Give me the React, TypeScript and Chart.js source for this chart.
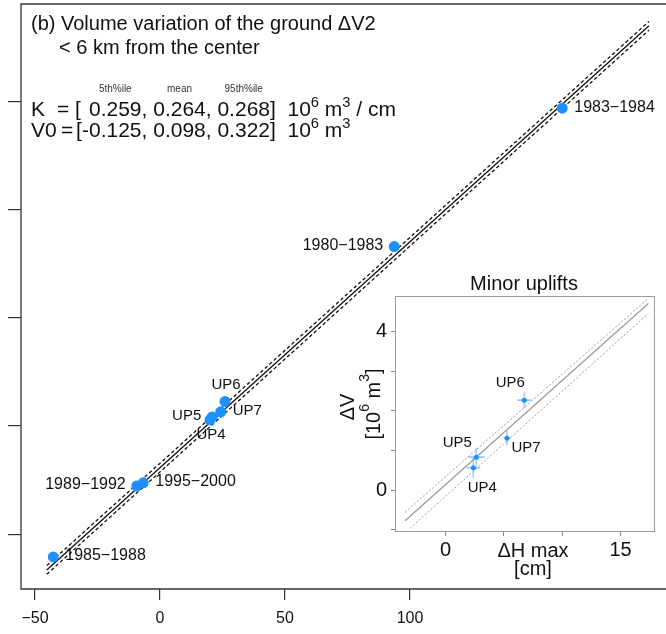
import React, { useEffect, useRef } from "react";
import { Chart, registerables } from "chart.js";
Chart.register(...registerables);

const FONT = "'Liberation Sans', Arial, Helvetica, sans-serif";

// ---------- main panel data ----------
const periodNames = ["1985−1988", "1989−1992", "1995−2000", "UP4", "UP5", "UP7", "UP6", "1980−1983", "1983−1984"];
const periodDH = [-42.7, -9.3, -6.7, 20.0, 20.9, 24.3, 26.0, 93.7, 160.9];
const periodDV = [-12.1, -5.55, -5.25, 0.56, 0.83, 1.31, 2.27, 16.57, 29.36];
const periodLabelSide = ["right", "left", "right", "bottom", "left", "right", "top", "left", "right"];

const fitX = [-45.3, 195.6];
const fitMean = [-13.3, 36.97];
const fitUpper = [-12.9, 37.37];
const fitLower = [-13.7, 36.57];

const mainXTicks = [-50, 0, 50, 100];
const mainYTicks = [-10, 0, 10, 20, 30];

// ---------- inset data ----------
const upNames = ["UP4", "UP5", "UP6", "UP7"];
const upDH = [2.38, 2.64, 6.75, 5.27];
const upDV = [0.56, 0.83, 2.27, 1.31];
const upDHErr = [0.6, 0.72, 0.62, 0.3];
const upDVErr = [0.25, 0.23, 0.2, 0.18];
const upLabelOffset = [[9, 20], [-19, -14], [-14, -17], [19, 10]];

const insetFitX = [-3.47, 17.38];
const insetFitMean = [-0.775, 4.71];
const insetUpperX = [-3.47, 17.38];
const insetFitUpper = [-0.563, 4.84];
const insetLowerX = [-3.04, 17.38];
const insetFitLower = [-0.967, 4.46];

const insetXTicks = [0, 5, 10, 15];
const insetXLabels = ["0", "", "", "15"];
const insetYTicks = [-1, 0, 1, 2, 3, 4];
const insetYLabels = ["", "0", "", "", "", "4"];

// K / V0 table text
const statHeads = ["5th%ile", "mean", "95th%ile"];
const kValues = ["0.259", "0.264", "0.268"];
const v0Values = ["-0.125", "0.098", "0.322"];

type Piece = { t: string; sup?: boolean };

function richWidth(ctx: CanvasRenderingContext2D, pieces: Piece[], size: number) {
  let w = 0;
  for (const p of pieces) {
    ctx.font = `${p.sup ? size * 0.7 : size}px ${FONT}`;
    w += ctx.measureText(p.t).width;
  }
  return w;
}

function drawRich(ctx: CanvasRenderingContext2D, pieces: Piece[], x: number, y: number, size: number) {
  let cx = x;
  for (const p of pieces) {
    const fs = p.sup ? size * 0.7 : size;
    ctx.font = `${fs}px ${FONT}`;
    ctx.fillText(p.t, cx, p.sup ? y - size * 0.42 : y);
    cx += ctx.measureText(p.t).width;
  }
}

const fmtMinus = (v: number) => (v < 0 ? "−" + Math.abs(v) : String(v));

const mainDecor = {
  id: "mainDecor",
  afterDatasetsDraw(chart: any) {
    const ctx: CanvasRenderingContext2D = chart.ctx;
    const { left, top, right, bottom } = chart.chartArea;
    ctx.save();
    ctx.strokeStyle = "#333";
    ctx.lineWidth = 1.3;
    ctx.beginPath();
    ctx.moveTo(right + 2, top);
    ctx.lineTo(left, top);
    ctx.lineTo(left, bottom);
    ctx.lineTo(right + 2, bottom);
    ctx.stroke();

    const xs = chart.scales.x, ys = chart.scales.y;
    ctx.fillStyle = "#111";
    ctx.textBaseline = "middle";
    periodNames.forEach((name, i) => {
      const px = xs.getPixelForValue(periodDH[i]);
      const py = ys.getPixelForValue(periodDV[i]);
      const isUP = name.startsWith("UP");
      ctx.font = `${isUP ? 15 : 16}px ${FONT}`;
      const side = periodLabelSide[i];
      if (side === "right") { ctx.textAlign = "left"; ctx.fillText(name, px + 12, py - 1); }
      else if (side === "left") { ctx.textAlign = "right"; ctx.fillText(name, px - 11, py - 1); }
      else if (side === "top") { ctx.textAlign = "center"; ctx.fillText(name, px + 1, py - 17); }
      else { ctx.textAlign = "center"; ctx.fillText(name, px + 1, py + 15); }
    });

    // header text
    ctx.textAlign = "left";
    ctx.textBaseline = "alphabetic";
    ctx.fillStyle = "#111";
    ctx.font = `20px ${FONT}`;
    ctx.fillText("(b) Volume variation of the ground ΔV2", 31, 30);
    ctx.fillText("< 6 km from the center", 59, 54);

    const S = 21;
    const numX = 89;
    ctx.font = `${S}px ${FONT}`;
    ctx.fillText("K", 31, 116);
    ctx.fillText("=", 57, 116);
    ctx.fillText("[", 75, 116);
    ctx.fillText("V0", 31, 137);
    ctx.fillText("=", 61, 137);
    ctx.fillText("[", 76, 137);
    const w1 = ctx.measureText(kValues[0]).width;
    const off2 = ctx.measureText(`${kValues[0]}, `).width;
    const w2 = ctx.measureText(kValues[1]).width;
    const off3 = ctx.measureText(`${kValues[0]}, ${kValues[1]}, `).width;
    const w3 = ctx.measureText(kValues[2]).width;
    const centres = [numX + w1 / 2, numX + off2 + w2 / 2, numX + off3 + w3 / 2];
    const minusW = ctx.measureText("-").width;

    drawRich(ctx, [{ t: `${kValues.join(", ")}]  10` }, { t: "6", sup: true }, { t: " m" }, { t: "3", sup: true }, { t: " / cm" }], numX, 116, S);
    drawRich(ctx, [{ t: `${v0Values.join(", ")}]  10` }, { t: "6", sup: true }, { t: " m" }, { t: "3", sup: true }], numX - minusW, 137, S);

    ctx.font = `10px ${FONT}`;
    ctx.fillStyle = "#333";
    ctx.textAlign = "center";
    statHeads.forEach((h, i) => ctx.fillText(h, centres[i], 92));
    ctx.restore();
  },
};

const OX = 320, OY = 260;

const insetDecor = {
  id: "insetDecor",
  beforeDatasetsDraw(chart: any) {
    const ctx: CanvasRenderingContext2D = chart.ctx;
    const xs = chart.scales.x, ys = chart.scales.y;
    ctx.save();
    ctx.strokeStyle = "rgba(30,144,255,0.45)";
    ctx.lineWidth = 1.6;
    upDH.forEach((x, i) => {
      const px = xs.getPixelForValue(x), py = ys.getPixelForValue(upDV[i]);
      const x0 = xs.getPixelForValue(x - upDHErr[i]), x1 = xs.getPixelForValue(x + upDHErr[i]);
      const y0 = ys.getPixelForValue(upDV[i] - upDVErr[i]), y1 = ys.getPixelForValue(upDV[i] + upDVErr[i]);
      ctx.beginPath();
      ctx.moveTo(x0, py); ctx.lineTo(x1, py);
      ctx.moveTo(px, y0); ctx.lineTo(px, y1);
      ctx.stroke();
    });
    ctx.restore();
  },
  afterDraw(chart: any) {
    const ctx: CanvasRenderingContext2D = chart.ctx;
    const { left, top, right, bottom } = chart.chartArea;
    const xs = chart.scales.x, ys = chart.scales.y;
    ctx.save();
    ctx.strokeStyle = "#9a9a9a";
    ctx.lineWidth = 1;
    ctx.strokeRect(left + 0.5, top + 0.5, right - left - 1, bottom - top - 1);

    ctx.fillStyle = "#111";
    ctx.textBaseline = "middle";
    ctx.font = `15px ${FONT}`;
    ctx.textAlign = "center";
    upNames.forEach((n, i) => {
      const px = xs.getPixelForValue(upDH[i]), py = ys.getPixelForValue(upDV[i]);
      ctx.fillText(n, px + upLabelOffset[i][0], py + upLabelOffset[i][1]);
    });

    ctx.font = `20px ${FONT}`;
    ctx.fillText("Minor uplifts", 524 - OX, 284 - OY);
    ctx.fillText("ΔH max", 533 - OX, 551 - OY);
    ctx.fillText("[cm]", 533 - OX, 569 - OY);

    ctx.save();
    ctx.translate(348 - OX, 407 - OY);
    ctx.rotate(-Math.PI / 2);
    ctx.fillText("ΔV", 0, 0);
    ctx.restore();

    ctx.save();
    ctx.translate(374 - OX, 404 - OY);
    ctx.rotate(-Math.PI / 2);
    const pcs: Piece[] = [{ t: "[10" }, { t: "6", sup: true }, { t: " m" }, { t: "3", sup: true }, { t: "]" }];
    const w = richWidth(ctx, pcs, 20);
    ctx.textAlign = "left";
    drawRich(ctx, pcs, -w / 2, 0, 20);
    ctx.restore();
    ctx.restore();
  },
};

export default function App() {
  const mainRef = useRef<HTMLCanvasElement>(null);
  const insetRef = useRef<HTMLCanvasElement>(null);

  useEffect(() => {
    const pts = (xs: number[], ys: number[]) => xs.map((x, i) => ({ x, y: ys[i] }));
    const main = new Chart(mainRef.current!, {
      type: "scatter",
      data: {
        datasets: [
          { data: pts(periodDH, periodDV), backgroundColor: "#1E90FF", borderWidth: 0, pointRadius: 5.5, showLine: false },
          { data: pts(fitX, fitMean), borderColor: "#111", borderWidth: 1.3, pointRadius: 0, showLine: true },
          { data: pts(fitX, fitUpper), borderColor: "#111", borderWidth: 1.3, borderDash: [3.5, 2.5], pointRadius: 0, showLine: true },
          { data: pts(fitX, fitLower), borderColor: "#111", borderWidth: 1.3, borderDash: [3.5, 2.5], pointRadius: 0, showLine: true },
        ],
      },
      options: {
        animation: false,
        responsive: false,
        devicePixelRatio: 1,
        layout: { autoPadding: false, padding: { left: 0, right: 0, top: 4, bottom: 0 } },
        plugins: { legend: { display: false }, tooltip: { enabled: false } },
        scales: {
          x: {
            type: "linear", min: -55.6, max: 202.4,
            afterBuildTicks: (s: any) => { s.ticks = mainXTicks.map((v) => ({ value: v })); },
            afterFit: (s: any) => { s.height = 45; },
            border: { display: false },
            grid: { drawOnChartArea: false, drawTicks: true, tickLength: 11, color: "#333", tickColor: "#333", lineWidth: 1.2 },
            ticks: { font: { size: 16, family: FONT }, color: "#111", padding: 9, maxRotation: 0, callback: (v: any) => fmtMinus(Number(v)) },
          },
          y: {
            type: "linear", min: -15.06, max: 38.98,
            afterBuildTicks: (s: any) => { s.ticks = mainYTicks.map((v) => ({ value: v })); },
            afterFit: (s: any) => { s.width = 21; },
            border: { display: false },
            grid: { drawOnChartArea: false, drawTicks: true, tickLength: 13, color: "#333", tickColor: "#333", lineWidth: 1.2 },
            ticks: { display: false },
          },
        },
      },
      plugins: [mainDecor],
    } as any);

    const inset = new Chart(insetRef.current!, {
      type: "scatter",
      data: {
        datasets: [
          { data: pts(upDH, upDV), backgroundColor: "#1E90FF", borderWidth: 0, pointRadius: 2.5, showLine: false },
          { data: pts(insetFitX, insetFitMean), borderColor: "#999", borderWidth: 1.2, pointRadius: 0, showLine: true },
          { data: pts(insetUpperX, insetFitUpper), borderColor: "#999", borderWidth: 1, borderDash: [2, 2], pointRadius: 0, showLine: true },
          { data: pts(insetLowerX, insetFitLower), borderColor: "#999", borderWidth: 1, borderDash: [2, 2], pointRadius: 0, showLine: true },
        ],
      },
      options: {
        animation: false,
        responsive: false,
        devicePixelRatio: 1,
        layout: { autoPadding: false, padding: { left: 0, right: 11, top: 36, bottom: 0 } },
        plugins: { legend: { display: false }, tooltip: { enabled: false } },
        scales: {
          x: {
            type: "linear", min: -4.33, max: 17.95,
            afterBuildTicks: (s: any) => { s.ticks = insetXTicks.map((v) => ({ value: v })); },
            afterFit: (s: any) => { s.height = 68; },
            border: { display: false },
            grid: { drawOnChartArea: false, drawTicks: true, tickLength: 4, color: "#888", tickColor: "#888", lineWidth: 1 },
            ticks: { font: { size: 20, family: FONT }, color: "#111", padding: 2, maxRotation: 0, autoSkip: false,
              callback: (v: any) => insetXLabels[insetXTicks.indexOf(Number(v))] ?? "" },
          },
          y: {
            type: "linear", min: -1.06, max: 4.9,
            afterBuildTicks: (s: any) => { s.ticks = insetYTicks.map((v) => ({ value: v })); },
            afterFit: (s: any) => { s.width = 75; },
            border: { display: false },
            grid: { drawOnChartArea: false, drawTicks: true, tickLength: 4, color: "#888", tickColor: "#888", lineWidth: 1 },
            ticks: { font: { size: 20, family: FONT }, color: "#111", padding: 4, autoSkip: false,
              callback: (v: any) => insetYLabels[insetYTicks.indexOf(Number(v))] ?? "" },
          },
        },
      },
      plugins: [insetDecor],
    } as any);

    return () => { main.destroy(); inset.destroy(); };
  }, []);

  return (
    <div style={{ position: "absolute", left: 0, top: 0, width: 666, height: 634, background: "#fff", overflow: "hidden" }}>
      <canvas ref={mainRef} width={666} height={634} style={{ position: "absolute", left: 0, top: 0 }} />
      <canvas ref={insetRef} width={346} height={340} style={{ position: "absolute", left: OX, top: OY }} />
    </div>
  );
}
